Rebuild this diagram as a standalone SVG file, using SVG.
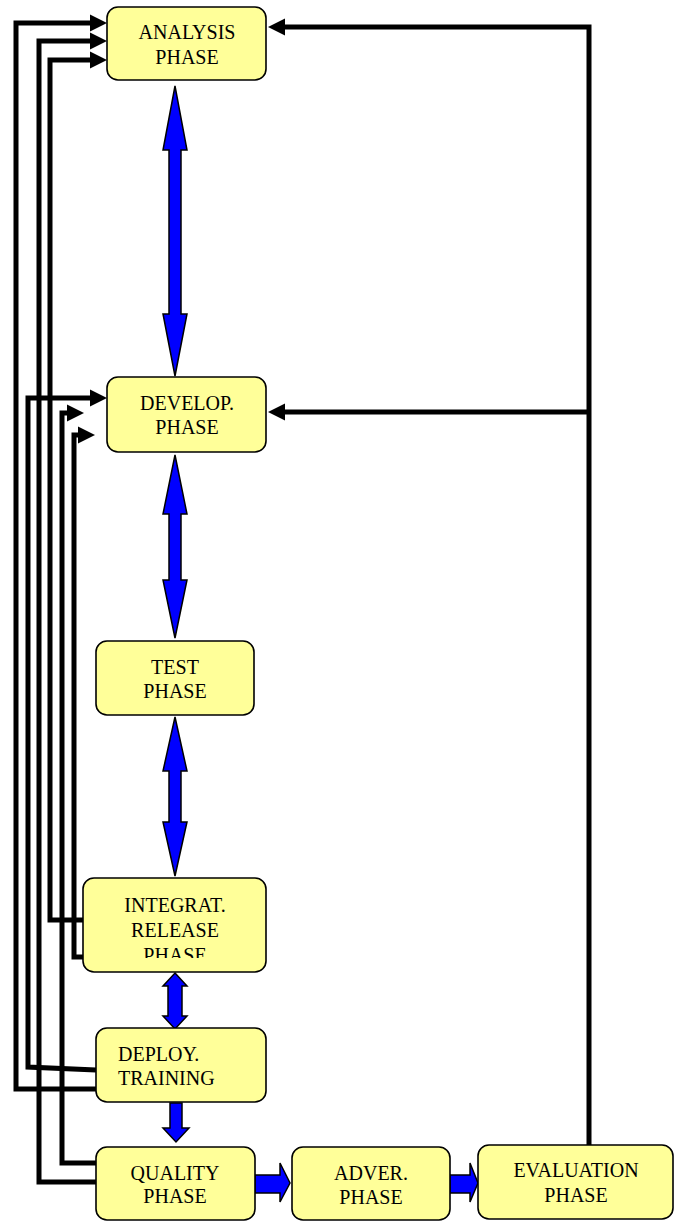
<svg xmlns="http://www.w3.org/2000/svg" width="678" height="1221" viewBox="0 0 678 1221">
<style>
.box{fill:#FFFF99;stroke:#000;stroke-width:1.6}
.t{font-family:"Liberation Serif","Times New Roman",serif;font-size:20px;fill:#000}
.c{text-anchor:middle}
.ln{fill:none;stroke:#000;stroke-width:5;stroke-linejoin:miter}
.blue{fill:#0000FF;stroke:#000;stroke-width:1.5;stroke-linejoin:miter}
</style>
<defs>
<marker id="ah" markerUnits="userSpaceOnUse" markerWidth="18" markerHeight="18" refX="0" refY="8.5" orient="auto" viewBox="0 0 18 17">
<path d="M0,0 L17,8.5 L0,17 z" fill="#000"/>
</marker>
<clipPath id="clipInt"><rect x="83" y="878" width="184" height="80"/></clipPath>
</defs>

<g id="connectors">
<path class="ln" d="M589,1145 L589,27 L285,27" marker-end="url(#ah)"/>
<path class="ln" d="M589,412 L285,412" marker-end="url(#ah)"/>
<path class="ln" d="M96,1089 L16,1089 L16,23 L90,23" marker-end="url(#ah)"/>
<path class="ln" d="M96,1182 L39,1182 L39,41 L90,41" marker-end="url(#ah)"/>
<path class="ln" d="M83,920 L50,920 L50,60 L90,60" marker-end="url(#ah)"/>
<path class="ln" d="M96,1070 L28,1067 L28,398 L90,398" marker-end="url(#ah)"/>
<path class="ln" d="M96,1163 L62,1163 L62,413 L67,413" marker-end="url(#ah)"/>
<path class="ln" d="M83,957 L74,957 L74,435 L78,435" marker-end="url(#ah)"/>
<polygon class="blue" points="175,86 187,150 181,150 181,314 187,314 175,376 163,314 169,314 169,150 163,150"/>
<polygon class="blue" points="175,455 187,514 181,514 181,580 187,580 175,638 163,580 169,580 169,514 163,514"/>
<polygon class="blue" points="175,717 187,771 181,771 181,822 187,822 175,876 163,822 169,822 169,771 163,771"/>
<polygon class="blue" points="175,973 187,986 182,986 182,1016 187,1016 175,1029 163,1016 168,1016 168,986 163,986"/>
<polygon class="blue" points="170,1103 182,1103 182,1128 189,1128 176,1142 163,1128 170,1128"/>
<polygon class="blue" points="255,1175 280,1175 280,1163 290,1183 280,1202 280,1193 255,1193"/>
<polygon class="blue" points="450,1175 470,1175 470,1163 478,1183 470,1202 470,1193 450,1193"/>
</g>

<g id="analysis">
<rect class="box" x="107" y="7" width="159" height="73" rx="11"/>
<text class="t c" x="187" y="39">ANALYSIS</text>
<text class="t c" x="187" y="64">PHASE</text>
</g>
<g id="develop">
<rect class="box" x="107" y="377" width="159" height="75" rx="11"/>
<text class="t c" x="187" y="410">DEVELOP.</text>
<text class="t c" x="187" y="434">PHASE</text>
</g>
<g id="test">
<rect class="box" x="96" y="641" width="158" height="74" rx="11"/>
<text class="t c" x="175" y="674">TEST</text>
<text class="t c" x="175" y="698">PHASE</text>
</g>
<g id="integrat">
<rect class="box" x="83" y="878" width="183" height="94" rx="11"/>
<text class="t c" x="175" y="912">INTEGRAT.</text>
<text class="t c" x="175" y="937">RELEASE</text>
<text class="t c" x="175" y="962" clip-path="url(#clipInt)">PHASE</text>
</g>
<g id="deploy">
<rect class="box" x="96" y="1028" width="170" height="74" rx="11"/>
<text class="t" x="118" y="1061">DEPLOY.</text>
<text class="t" x="118" y="1085">TRAINING</text>
</g>
<g id="quality">
<rect class="box" x="96" y="1147" width="159" height="73" rx="11"/>
<text class="t c" x="175" y="1180">QUALITY</text>
<text class="t c" x="175" y="1203">PHASE</text>
</g>
<g id="adver">
<rect class="box" x="292" y="1147" width="158" height="73" rx="11"/>
<text class="t c" x="371" y="1180">ADVER.</text>
<text class="t c" x="371" y="1204">PHASE</text>
</g>
<g id="evaluation">
<rect class="box" x="478" y="1145" width="195" height="74" rx="11"/>
<text class="t c" x="576" y="1177">EVALUATION</text>
<text class="t c" x="576" y="1202">PHASE</text>
</g>
</svg>
